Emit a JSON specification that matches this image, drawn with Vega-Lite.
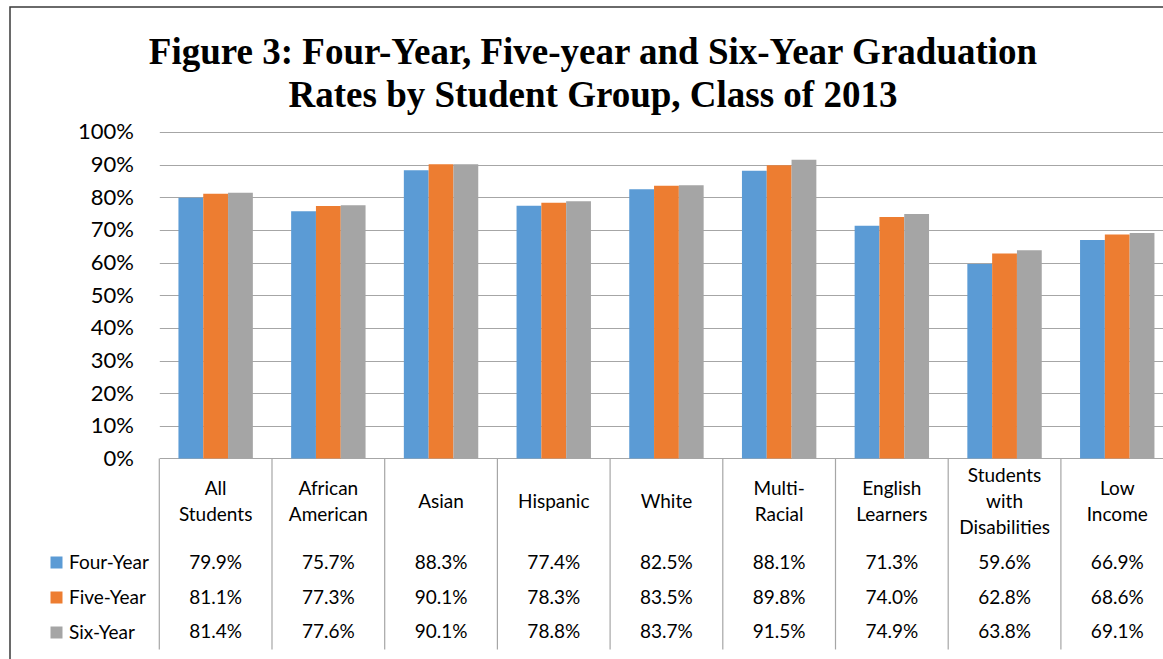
{
  "$schema": "https://vega.github.io/schema/vega-lite/v6.json",
  "width": 1160,
  "height": 660,
  "autosize": {"type": "none"},
  "padding": {"left": 10, "top": 7, "right": 0, "bottom": 0},
  "background": "white",
  "config": {"view": {"stroke": "#3a3a3a", "strokeWidth": 1.5}, "font": "Lato"},
  "title": {
    "text": ["Figure 3: Four-Year, Five-year and Six-Year Graduation", "Rates by Student Group, Class of 2013"],
    "font": "Liberation Serif",
    "fontSize": 37,
    "fontWeight": "bold",
    "color": "#000000",
    "lineHeight": 42.5,
    "anchor": "middle",
    "frame": "group",
    "baseline": "alphabetic",
    "offset": -136.5,
    "dx": 3
  },
  "datasets": {
    "rates": [
      {"group": "All Students", "series": "Four-Year", "value": 0.799},
      {"group": "All Students", "series": "Five-Year", "value": 0.811},
      {"group": "All Students", "series": "Six-Year", "value": 0.814},
      {"group": "African American", "series": "Four-Year", "value": 0.757},
      {"group": "African American", "series": "Five-Year", "value": 0.773},
      {"group": "African American", "series": "Six-Year", "value": 0.776},
      {"group": "Asian", "series": "Four-Year", "value": 0.883},
      {"group": "Asian", "series": "Five-Year", "value": 0.901},
      {"group": "Asian", "series": "Six-Year", "value": 0.901},
      {"group": "Hispanic", "series": "Four-Year", "value": 0.774},
      {"group": "Hispanic", "series": "Five-Year", "value": 0.783},
      {"group": "Hispanic", "series": "Six-Year", "value": 0.788},
      {"group": "White", "series": "Four-Year", "value": 0.825},
      {"group": "White", "series": "Five-Year", "value": 0.835},
      {"group": "White", "series": "Six-Year", "value": 0.837},
      {"group": "Multi-Racial", "series": "Four-Year", "value": 0.881},
      {"group": "Multi-Racial", "series": "Five-Year", "value": 0.898},
      {"group": "Multi-Racial", "series": "Six-Year", "value": 0.915},
      {"group": "English Learners", "series": "Four-Year", "value": 0.713},
      {"group": "English Learners", "series": "Five-Year", "value": 0.74},
      {"group": "English Learners", "series": "Six-Year", "value": 0.749},
      {"group": "Students with Disabilities", "series": "Four-Year", "value": 0.596},
      {"group": "Students with Disabilities", "series": "Five-Year", "value": 0.628},
      {"group": "Students with Disabilities", "series": "Six-Year", "value": 0.638},
      {"group": "Low Income", "series": "Four-Year", "value": 0.669},
      {"group": "Low Income", "series": "Five-Year", "value": 0.686},
      {"group": "Low Income", "series": "Six-Year", "value": 0.691}
    ],
    "groups": [
      {"group": "All Students", "label": "All\nStudents", "lines": 2},
      {"group": "African American", "label": "African\nAmerican", "lines": 2},
      {"group": "Asian", "label": "Asian", "lines": 1},
      {"group": "Hispanic", "label": "Hispanic", "lines": 1},
      {"group": "White", "label": "White", "lines": 1},
      {"group": "Multi-Racial", "label": "Multi-\nRacial", "lines": 2},
      {"group": "English Learners", "label": "English\nLearners", "lines": 2},
      {"group": "Students with Disabilities", "label": "Students\nwith\nDisabilities", "lines": 3},
      {"group": "Low Income", "label": "Low\nIncome", "lines": 2}
    ]
  },
  "layer": [
    {
      "data": {"name": "rates"},
      "mark": {"type": "bar"},
      "encoding": {
        "x": {"field": "group", "type": "nominal", "axis": null,
          "scale": {"domain": ["", "All Students", "African American", "Asian", "Hispanic", "White", "Multi-Racial", "English Learners", "Students with Disabilities", "Low Income"], "range": [36.6, 1163.6], "paddingInner": 0, "paddingOuter": 0}},
        "xOffset": {"field": "series", "type": "nominal",
          "scale": {"domain": ["Four-Year", "Five-Year", "Six-Year"], "paddingInner": 0, "paddingOuter": 0.772}},
        "y": {"field": "value", "type": "quantitative",
          "scale": {"domain": [-0.6386, 1.38285], "nice": false, "zero": false},
          "axis": {"values": [0, 0.1, 0.2, 0.3, 0.4, 0.5, 0.6, 0.7, 0.8, 0.9, 1], "format": ".0%", "title": null, "offset": -149.3, "domain": false, "grid": false, "ticks": true, "tickSize": -1014, "tickColor": "#a6a6a6", "tickWidth": 1.2, "labelFont": "Lato", "labelFontSize": 22, "labelColor": "#000000", "labelPadding": 1040}},
        "y2": {"datum": 0},
        "color": {"field": "series", "type": "nominal",
          "scale": {"domain": ["Four-Year", "Five-Year", "Six-Year"], "range": ["#5b9bd5", "#ed7d31", "#a5a5a5"]},
          "legend": {"title": null, "orient": "none", "legendX": 37, "legendY": 546, "direction": "vertical", "symbolType": "square", "symbolSize": 144, "symbolStrokeWidth": 0, "labelFont": "Lato", "labelFontSize": 19, "labelColor": "#000000", "rowPadding": 15, "labelOffset": 3, "padding": 0}}
      }
    },
    {
      "mark": {"type": "rule", "color": "#a6a6a6", "strokeWidth": 1.2},
      "encoding": {
        "x": {"datum": "All Students", "bandPosition": 0, "axis": null},
        "y": {"datum": 1},
        "y2": {"datum": -0.5849}
      }
    },
    {
      "data": {"name": "groups"},
      "mark": {"type": "rule", "color": "#a6a6a6", "strokeWidth": 1.2},
      "encoding": {
        "x": {"field": "group", "type": "nominal", "bandPosition": 0, "axis": null},
        "y": {"datum": 0},
        "y2": {"datum": -0.5849}
      }
    },
    {
      "mark": {"type": "rule", "color": "#a6a6a6", "strokeWidth": 1.2},
      "encoding": {
        "x": {"datum": "", "bandPosition": 0, "axis": null},
        "y": {"datum": -0.2649},
        "y2": {"datum": -0.5849}
      }
    },
    {
      "mark": {"type": "rule", "color": "#a6a6a6", "strokeWidth": 1.2},
      "encoding": {
        "x": {"datum": "", "bandPosition": 0, "axis": null},
        "x2": {"datum": "Low Income", "bandPosition": 1},
        "y": {"datum": -0.2649}
      }
    },
    {
      "mark": {"type": "rule", "color": "#a6a6a6", "strokeWidth": 1.2},
      "encoding": {
        "x": {"datum": "", "bandPosition": 0, "axis": null},
        "x2": {"datum": "Low Income", "bandPosition": 1},
        "y": {"datum": -0.3737}
      }
    },
    {
      "mark": {"type": "rule", "color": "#a6a6a6", "strokeWidth": 1.2},
      "encoding": {
        "x": {"datum": "", "bandPosition": 0, "axis": null},
        "x2": {"datum": "Low Income", "bandPosition": 1},
        "y": {"datum": -0.48}
      }
    },
    {
      "mark": {"type": "rule", "color": "#a6a6a6", "strokeWidth": 1.2},
      "encoding": {
        "x": {"datum": "", "bandPosition": 0, "axis": null},
        "x2": {"datum": "Low Income", "bandPosition": 1},
        "y": {"datum": -0.5849}
      }
    },
    {
      "data": {"name": "groups"},
      "transform": [{"filter": "datum.lines === 1"}],
      "mark": {"type": "text", "font": "Lato", "fontSize": 19, "color": "#000000", "lineBreak": "\n", "lineHeight": 26, "baseline": "middle", "align": "center"},
      "encoding": {
        "x": {"field": "group", "type": "nominal", "axis": null},
        "y": {"datum": -0.1325},
        "text": {"field": "label"}
      }
    },
    {
      "data": {"name": "groups"},
      "transform": [{"filter": "datum.lines === 2"}],
      "mark": {"type": "text", "font": "Lato", "fontSize": 19, "color": "#000000", "lineBreak": "\n", "lineHeight": 26, "baseline": "middle", "align": "center"},
      "encoding": {
        "x": {"field": "group", "type": "nominal", "axis": null},
        "y": {"datum": -0.0927},
        "text": {"field": "label"}
      }
    },
    {
      "data": {"name": "groups"},
      "transform": [{"filter": "datum.lines === 3"}],
      "mark": {"type": "text", "font": "Lato", "fontSize": 19, "color": "#000000", "lineBreak": "\n", "lineHeight": 26, "baseline": "middle", "align": "center"},
      "encoding": {
        "x": {"field": "group", "type": "nominal", "axis": null},
        "y": {"datum": -0.0528},
        "text": {"field": "label"}
      }
    },
    {
      "data": {"name": "rates"},
      "transform": [{"filter": "datum.series === 'Four-Year'"}],
      "mark": {"type": "text", "font": "Lato", "fontSize": 19, "color": "#000000", "baseline": "middle", "align": "center"},
      "encoding": {
        "x": {"field": "group", "type": "nominal", "axis": null},
        "y": {"datum": -0.3186},
        "text": {"field": "value", "format": ".1%"}
      }
    },
    {
      "data": {"name": "rates"},
      "transform": [{"filter": "datum.series === 'Five-Year'"}],
      "mark": {"type": "text", "font": "Lato", "fontSize": 19, "color": "#000000", "baseline": "middle", "align": "center"},
      "encoding": {
        "x": {"field": "group", "type": "nominal", "axis": null},
        "y": {"datum": -0.4261},
        "text": {"field": "value", "format": ".1%"}
      }
    },
    {
      "data": {"name": "rates"},
      "transform": [{"filter": "datum.series === 'Six-Year'"}],
      "mark": {"type": "text", "font": "Lato", "fontSize": 19, "color": "#000000", "baseline": "middle", "align": "center"},
      "encoding": {
        "x": {"field": "group", "type": "nominal", "axis": null},
        "y": {"datum": -0.532},
        "text": {"field": "value", "format": ".1%"}
      }
    }
  ]
}
